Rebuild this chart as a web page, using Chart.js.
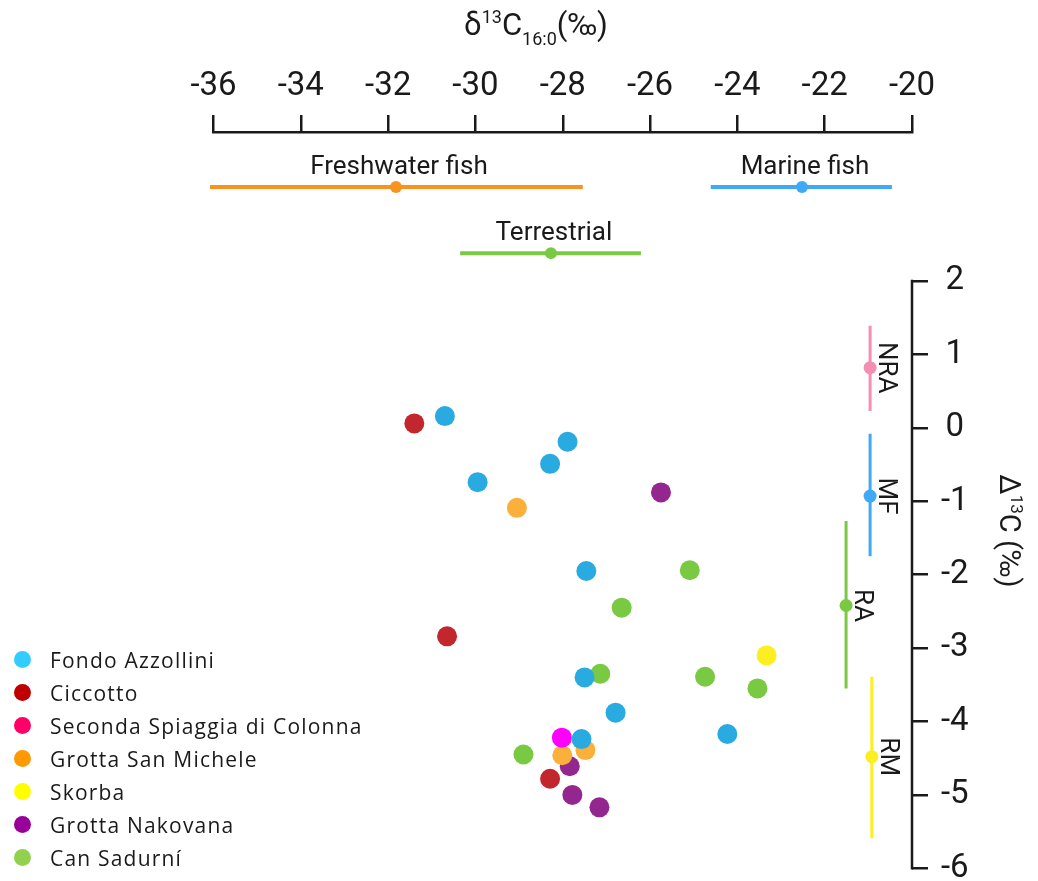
<!DOCTYPE html>
<html>
<head>
<meta charset="utf-8">
<script src="https://cdn.jsdelivr.net/npm/chart.js@4.4.1/dist/chart.umd.min.js"></script>
<style>
    html, body { margin: 0; padding: 0; background: #fff; }
    #wrap { position: relative; width: 1038px; height: 881px; }
    #legend { position: absolute; left: 0; top: 643px; font-family: 'Open Sans', sans-serif; font-size: 21px; letter-spacing: 1.2px; color: #1a1a1a; }
    .row { height: 33px; display: flex; align-items: center; white-space: nowrap; }
    .dot { width: 17px; height: 17px; border-radius: 50%; margin-left: 14px; margin-right: 19px; }
</style>
</head>
<body>
<div id="wrap">
    <canvas id="chart" width="1038" height="881"></canvas>
    <div id="legend"></div>
</div>
<script>
// sites, in legend order
const sites = ['Fondo Azzollini', 'Ciccotto', 'Seconda Spiaggia di Colonna', 'Grotta San Michele', 'Skorba', 'Grotta Nakovana', 'Can Sadurní'];

// δ13C16:0 (x) and Δ13C (y) per site
const fondoX = [-30.70, -27.89, -28.29, -29.95, -27.46, -27.50, -26.79, -24.23, -27.57];
const fondoY = [0.16, -0.19, -0.49, -0.74, -1.95, -3.40, -3.88, -4.17, -4.24];
const ciccottoX = [-31.40, -30.65, -28.29];
const ciccottoY = [0.06, -2.84, -4.78];
const secondaX = [-28.02];
const secondaY = [-4.22];
const micheleX = [-29.05, -27.48, -28.01];
const micheleY = [-1.09, -4.39, -4.46];
const skorbaX = [-23.33];
const skorbaY = [-3.10];
const nakovanaX = [-25.75, -27.84, -27.78, -27.16];
const nakovanaY = [-0.88, -4.61, -5.00, -5.17];
const sadurniX = [-25.09, -26.65, -27.14, -24.74, -23.54, -28.90];
const sadurniY = [-1.94, -2.45, -3.35, -3.39, -3.55, -4.45];

// reference ranges on δ13C16:0 (horizontal)
const hRangeNames = ['Freshwater fish', 'Marine fish', 'Terrestrial'];
const hRangeLow = [-36.08, -24.61, -30.35];
const hRangeMean = [-31.82, -22.52, -28.27];
const hRangeHigh = [-27.54, -20.46, -26.21];
const hRangeLevel = [3.28, 3.28, 2.38];

// reference ranges on Δ13C (vertical)
const vRangeNames = ['NRA', 'MF', 'RA', 'RM'];
const vRangeLow = [0.23, -1.75, -3.55, -5.59];
const vRangeMean = [0.82, -0.93, -2.42, -4.48];
const vRangeHigh = [1.39, -0.08, -1.27, -3.39];
const vRangeLevel = [-20.96, -20.96, -21.51, -20.92];

const xTicks = [-36, -34, -32, -30, -28, -26, -24, -22, -20];
const yTicks = [2, 1, 0, -1, -2, -3, -4, -5, -6];

const siteXs = [fondoX, ciccottoX, secondaX, micheleX, skorbaX, nakovanaX, sadurniX];
const siteYs = [fondoY, ciccottoY, secondaY, micheleY, skorbaY, nakovanaY, sadurniY];
const pointColors = ['#29abe2', '#c1272d', '#ff00ff', '#fbb03b', '#fcee21', '#93278f', '#7ac943'];
const legendColors = ['#33ccff', '#c00000', '#ff0066', '#ff9900', '#ffff00', '#990099', '#92d050'];
const hRangeColors = ['#f7931e', '#3fa9f5', '#7ac943'];
const vRangeColors = ['#f48fb1', '#3fa9f5', '#7ac943', '#fcee21'];

const ink = '#1a1a1a';
const axisFont = "Roboto, sans-serif";
const labelFont = "Roboto, sans-serif";

const datasets = [];
sites.forEach((name, i) => {
    datasets.push({
        label: name,
        data: siteXs[i].map((x, k) => ({ x: x, y: siteYs[i][k] })),
        backgroundColor: pointColors[i],
        borderWidth: 0,
        pointRadius: 10,
        pointHoverRadius: 10
    });
});
hRangeNames.forEach((name, i) => {
    datasets.push({
        label: name,
        data: [
            { x: hRangeLow[i], y: hRangeLevel[i] },
            { x: hRangeMean[i], y: hRangeLevel[i] },
            { x: hRangeHigh[i], y: hRangeLevel[i] }
        ],
        showLine: true,
        borderColor: hRangeColors[i],
        backgroundColor: hRangeColors[i],
        borderWidth: 4,
        pointRadius: [0, 6, 0],
        pointBorderWidth: 0,
        clip: false
    });
});
vRangeNames.forEach((name, i) => {
    datasets.push({
        label: name,
        data: [
            { x: vRangeLevel[i], y: vRangeHigh[i] },
            { x: vRangeLevel[i], y: vRangeMean[i] },
            { x: vRangeLevel[i], y: vRangeLow[i] }
        ],
        showLine: true,
        borderColor: vRangeColors[i],
        backgroundColor: vRangeColors[i],
        borderWidth: 3,
        pointRadius: [0, 6.5, 0],
        pointBorderWidth: 0,
        clip: false
    });
});

// text with super/subscripts, drawn on a baseline
function drawRich(ctx, parts, cx, baseline) {
    let total = 0;
    parts.forEach(p => {
        ctx.font = `${p.size}px ${labelFont}`;
        p.w = ctx.measureText(p.t).width;
        total += p.w;
    });
    let x = cx - total / 2;
    ctx.textAlign = 'left';
    ctx.textBaseline = 'alphabetic';
    parts.forEach(p => {
        ctx.font = `${p.size}px ${labelFont}`;
        ctx.fillText(p.t, x, baseline + p.dy);
        x += p.w;
    });
}

const annotations = {
    id: 'annotations',
    afterDraw(chart) {
        const ctx = chart.ctx;
        const xs = chart.scales.x;
        const ys = chart.scales.y;
        ctx.save();
        ctx.fillStyle = ink;

        // right axis line, only from 2 down to -6
        ctx.strokeStyle = ink;
        ctx.lineWidth = 2.5;
        ctx.lineCap = 'square';
        ctx.beginPath();
        ctx.moveTo(ys.left, ys.getPixelForValue(yTicks[0]));
        ctx.lineTo(ys.left, ys.getPixelForValue(yTicks[yTicks.length - 1]));
        ctx.stroke();

        // axis titles
        drawRich(ctx, [
            { t: 'δ', size: 31, dy: 0 },
            { t: '13', size: 18, dy: -12 },
            { t: 'C', size: 31, dy: 0 },
            { t: '16:0', size: 18, dy: 10 },
            { t: '(‰)', size: 31, dy: 0 }
        ], 536, 35);

        ctx.save();
        ctx.translate(1000, 531);
        ctx.rotate(Math.PI / 2);
        drawRich(ctx, [
            { t: 'Δ', size: 29, dy: 0 },
            { t: '13', size: 17, dy: -11 },
            { t: 'C (‰)', size: 29, dy: 0 }
        ], 0, 0);
        ctx.restore();

        // range labels
        ctx.font = `26px ${labelFont}`;
        ctx.textAlign = 'center';
        ctx.textBaseline = 'alphabetic';
        hRangeNames.forEach((name, i) => {
            ctx.fillText(name, xs.getPixelForValue(hRangeMean[i]) + 3, ys.getPixelForValue(hRangeLevel[i]) - 13);
        });
        vRangeNames.forEach((name, i) => {
            ctx.save();
            ctx.translate(xs.getPixelForValue(vRangeLevel[i]) + 9, ys.getPixelForValue(vRangeMean[i]));
            ctx.rotate(Math.PI / 2);
            ctx.fillText(name, 0, 0);
            ctx.restore();
        });
        ctx.restore();
    }
};

new Chart(document.getElementById('chart'), {
    type: 'scatter',
    data: { datasets: datasets },
    options: {
        responsive: false,
        animation: false,
        events: [],
        layout: { padding: { left: 213.5, top: 0, right: 0, bottom: 12.7 } },
        plugins: {
            legend: { display: false },
            tooltip: { enabled: false }
        },
        scales: {
            x: {
                type: 'linear',
                position: 'top',
                min: -36,
                max: -20,
                afterBuildTicks: s => { s.ticks = xTicks.map(v => ({ value: v })); },
                afterFit: s => { s.height = 132; s.paddingLeft = 0; s.paddingRight = 0; },
                grid: { drawOnChartArea: false, tickLength: 17, color: ink, lineWidth: 2.5 },
                border: { display: true, color: ink, width: 2.5 },
                ticks: { font: { family: axisFont, size: 33 }, color: ink, padding: 8, maxRotation: 0, autoSkip: false }
            },
            y: {
                type: 'linear',
                position: 'right',
                min: -6,
                max: 4.03,
                afterBuildTicks: s => { s.ticks = yTicks.map(v => ({ value: v })); },
                afterFit: s => { s.width = 126; s.paddingTop = 0; s.paddingBottom = 0; },
                grid: { drawOnChartArea: false, tickLength: 16, color: ink, lineWidth: 2.5 },
                border: { display: false },
                ticks: { font: { family: axisFont, size: 33 }, color: ink, padding: 13, crossAlign: 'center', autoSkip: false }
            }
        }
    },
    plugins: [annotations]
});

// legend
const legend = document.getElementById('legend');
sites.forEach((name, i) => {
    const row = document.createElement('div');
    row.className = 'row';
    const dot = document.createElement('span');
    dot.className = 'dot';
    dot.style.background = legendColors[i];
    const txt = document.createElement('span');
    txt.textContent = name;
    row.appendChild(dot);
    row.appendChild(txt);
    legend.appendChild(row);
});
</script>
</body>
</html>
